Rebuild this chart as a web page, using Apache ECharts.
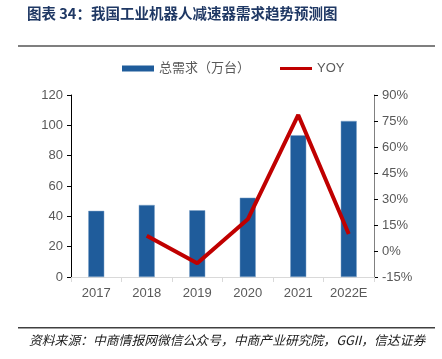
<!DOCTYPE html>
<html><head><meta charset="utf-8">
<script src="https://cdn.jsdelivr.net/npm/echarts@6/dist/echarts.min.js"></script>
<style>html,body{margin:0;padding:0;background:#fff}#c{width:442px;height:359px}</style>
</head><body><div id="c"></div>
<script>
const categories = ['2017','2018','2019','2020','2021','2022E'];
const demand = [43.6, 47.5, 44, 52.3, 93.5, 102.9];
const yoy = [null, 8.8, -7.1, 18.3, 78.5, 9.8];
const leftTicks = [0, 120, 20];
const rightTicks = [-15, 90, 15];
const titleText = '图表 34：我国工业机器人减速器需求趋势预测图';
const sourceText = '资料来源：中商情报网微信公众号，中商产业研究院，GGII，信达证券';

const chart = echarts.init(document.getElementById('c'), null, {renderer:'canvas'});
const labelColor = '#595959';
const ff = '"Liberation Sans", "Noto Sans CJK SC", sans-serif';
chart.setOption({
  animation:false,
  textStyle:{fontFamily:ff},
  grid:{left:71,right:68,top:95,bottom:82},
  legend:{
    top:57, left:117,
    itemGap:30, itemWidth:32, itemHeight:6,
    textStyle:{color:labelColor,fontSize:13,fontFamily:ff},
    data:[{name:'总需求（万台）',icon:'rect',itemStyle:{borderWidth:0}},{name:'YOY',icon:'path://M0,4 L32,4 L32,7 L0,7 Z'}]
  },
  xAxis:{type:'category',data:categories,
    axisLine:{lineStyle:{color:'#d9d9d9'}},
    axisTick:{show:true,alignWithLabel:false,lineStyle:{color:'#d9d9d9'}},
    axisLabel:{color:labelColor,fontSize:13,margin:10}},
  yAxis:[
    {type:'value',min:leftTicks[0],max:leftTicks[1],interval:leftTicks[2],
     splitLine:{show:false},
     axisLine:{show:true,lineStyle:{color:'#000'}},
     axisTick:{show:true,length:4,lineStyle:{color:'#000'}},
     axisLabel:{color:labelColor,fontSize:13,margin:8}},
    {type:'value',min:rightTicks[0],max:rightTicks[1],interval:rightTicks[2],
     splitLine:{show:false},
     axisLine:{show:true,lineStyle:{color:'#808080',width:1}},
     axisTick:{show:true,length:4,lineStyle:{color:'#000'}},
     axisLabel:{color:labelColor,fontSize:13,margin:8,formatter:v=>v+'%'}}
  ],
  series:[
    {name:'总需求（万台）',type:'bar',data:demand,barWidth:16,
     itemStyle:{color:'#1f5c9b',borderColor:'#7fa3c9',borderWidth:0.5}},
    {name:'YOY',type:'line',yAxisIndex:1,data:yoy,symbol:'none',
     lineStyle:{color:'#c00000',width:4},itemStyle:{color:'#c00000'}}
  ],
  graphic:[
    {type:'text',left:27,top:6,style:{text:titleText,fill:'#1f3864',font:'bold 14.5px "Noto Sans CJK SC", sans-serif'}},
    {type:'rect',shape:{x:18,y:45,width:417,height:2},style:{fill:'#7f7f7f'}},
    {type:'rect',shape:{x:18,y:327,width:417,height:1.5},style:{fill:'#404040'}},
    {type:'text',left:29,top:334,style:{text:sourceText,fill:'#1a1a1a',font:'italic 12.8px "Noto Sans CJK SC", sans-serif'}}
  ]
});
</script></body></html>
